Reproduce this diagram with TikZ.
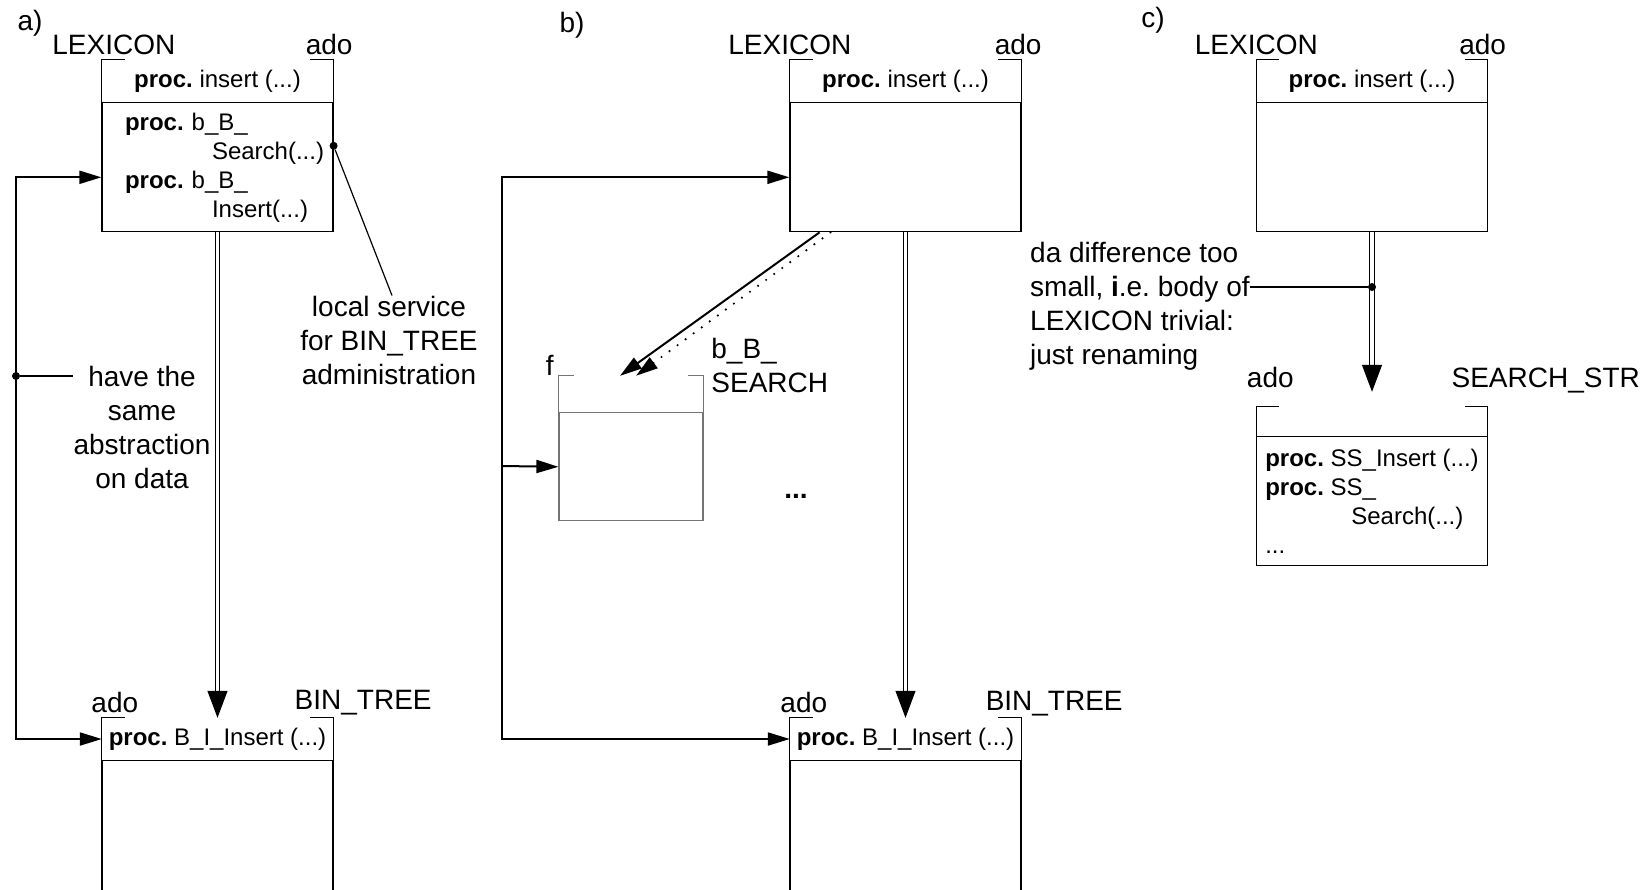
\documentclass[tikz,border=0pt]{standalone}
\usepackage{fontspec}
\setmainfont{Liberation Sans}
\usepackage{tikz}
\usetikzlibrary{positioning, arrows.meta, calc}
\frenchspacing

\tikzset{
  lbl/.style={font=\fontsize{28}{34}\selectfont, inner sep=0pt},
  note/.style={font=\fontsize{28}{34}\selectfont, inner sep=0pt, align=center},
  head/.style={minimum width=231pt, minimum height=42pt, inner sep=0pt, font=\fontsize{24}{29}\selectfont},
  body/.style={draw, line width=1.2pt, minimum width=231pt, inner sep=0pt, font=\fontsize{24}{29}\selectfont, align=left},
  flow/.style={line width=2pt, -{Triangle[length=22pt,width=13pt]}},
  refine/.style={double, double distance=3.5pt, line width=1.1pt, -{Triangle[length=27pt,width=20pt]}},
  dot/.style={circle, fill, inner sep=0pt, minimum size=8pt},
}

\begin{document}
\begin{tikzpicture}[x=1pt, y=-1pt]
\useasboundingbox (0,0) rectangle (1648,889);

% a)
\node[lbl] (parta) at (30,23) {a)};
\node[head] (lexAh) at (217.5,81) {\textbf{proc.} insert (...)};
\node[body, below=0pt of lexAh, minimum height=129pt, text width=185pt] (lexAb) {\textbf{proc.} b\_B\_\\\hspace*{87pt}Search(...)\\\textbf{proc.} b\_B\_\\\hspace*{87pt}Insert(...)};
\node[head] (binAh) at (217.5,739) {\textbf{proc.} B\_I\_Insert (...)};
\node[body, below=0pt of binAh, minimum height=200pt] (binAb) {};

\node[lbl, anchor=base] (lexAname) at ([xshift=12pt,yshift=5pt]lexAh.north west) {LEXICON};
\node[lbl, anchor=base] (lexAado) at ([xshift=-4pt,yshift=5pt]lexAh.north east) {ado};
\node[lbl, anchor=base] (binAado) at ([xshift=13pt,yshift=5pt]binAh.north west) {ado};
\node[lbl, anchor=base] (binAname) at ([xshift=30pt,yshift=8pt]binAh.north east) {BIN\_TREE};

\node[note] (anote) at (389,340) {local service\\for BIN\_TREE\\administration};
\node[note] (hnote) at (142,427) {have the\\same\\abstraction\\on data};

% b)
\node[lbl] (partb) at (572,25) {b)};
\node[head] (lexBh) at (905.5,81) {\textbf{proc.} insert (...)};
\node[body, below=0pt of lexBh, minimum height=129pt] (lexBb) {};
\node[head, minimum width=144pt, minimum height=36pt] (fBh) at (631,394) {};
\node[body, draw=black!55, below=0pt of fBh, minimum width=144pt, minimum height=108pt] (fBb) {};
\node[head] (binBh) at (905.5,739) {\textbf{proc.} B\_I\_Insert (...)};
\node[body, below=0pt of binBh, minimum height=200pt] (binBb) {};

\node[lbl, anchor=base] (lexBname) at ([yshift=5pt]lexBh.north west) {LEXICON};
\node[lbl, anchor=base] (lexBado) at ([xshift=-3pt,yshift=5pt]lexBh.north east) {ado};
\node[lbl, anchor=base] (fBname) at ([xshift=-9pt]fBh.north west) {f};
\node[lbl, align=left, anchor=north west] (fBsvc) at ([xshift=8pt,yshift=38pt]fBh.north east) {b\_B\_\\SEARCH};
\node[lbl, anchor=base] (binBado) at ([xshift=14pt,yshift=5pt]binBh.north west) {ado};
\node[lbl, anchor=base] (binBname) at ([xshift=33pt,yshift=7pt]binBh.north east) {BIN\_TREE};
\node[lbl] (bdots) at (796,496) {\textbf{...}};

% c)
\node[lbl] (partc) at (1153,20) {c)};
\node[head] (lexCh) at (1372,81) {\textbf{proc.} insert (...)};
\node[body, below=0pt of lexCh, minimum height=129pt] (lexCb) {};
\node[head, minimum height=29pt] (ssCh) at (1372,421.5) {};
\node[body, below=0pt of ssCh, minimum height=129pt] (ssCb) {\textbf{proc.} SS\_Insert (...)\\\textbf{proc.} SS\_\\\hspace*{86pt}Search(...)\\...};

\node[lbl, anchor=base] (lexCname) at ([yshift=5pt]lexCh.north west) {LEXICON};
\node[lbl, anchor=base] (lexCado) at ([xshift=-5pt,yshift=5pt]lexCh.north east) {ado};
\node[lbl, anchor=base] (ssCado) at ([xshift=14pt,yshift=19pt]ssCh.north west) {ado};
\node[lbl, anchor=base] (ssCname) at ([xshift=58pt,yshift=19pt]ssCh.north east) {SEARCH\_STR};

\node[note, align=left, anchor=west] (cnote) at (1030,306) {da difference too\\small, \textbf{i}.e. body of\\LEXICON trivial:\\just renaming};

% ado interface frames
\foreach \h in {lexAh, binAh, lexBh, binBh, lexCh, ssCh}
  \draw[line width=1.2pt] ([xshift=23pt]\h.north west) -- (\h.north west) -- (\h.south west)
    (\h.south east) -- (\h.north east) -- ([xshift=-23pt]\h.north east);
\draw[line width=1.2pt, black!55] ([xshift=15pt]fBh.north west) -- (fBh.north west) -- (fBh.south west)
  (fBh.south east) -- (fBh.north east) -- ([xshift=-15pt]fBh.north east);

% connectors a)
\coordinate (railA) at (16,376);
\draw[line width=2pt, {Triangle[length=22pt,width=13pt]}-{Triangle[length=22pt,width=13pt]}]
  ([yshift=-10pt]lexAb.west) -| (railA) |- (binAh.west);
\node[dot] (railAdot) at (railA) {};
\draw[line width=1.2pt] (railAdot) -- (railAdot -| hnote.west);
\draw[refine] (lexAb) -- (binAh);
\coordinate (svcA) at ([yshift=21.5pt]lexAb.east);
\node[dot] (svcAdot) at (svcA) {};
\draw[line width=1.2pt] (svcAdot) -- ([xshift=3pt]anote.north);

% connectors b)
\coordinate (railB) at (502,466);
\draw[flow] (railB) |- ([yshift=-10pt]lexBb.west);
\draw[flow] (railB) |- (binBh.west);
\draw[flow] (railB) -- (fBb.west);
\draw[flow] ([xshift=-86pt]lexBb.south) -- ([xshift=-11pt]fBh.north);
\draw[flow, line width=2.4pt, line cap=round, dash pattern=on 0pt off 10pt] ([xshift=-75pt]lexBb.south) -- ([xshift=5pt]fBh.north);
\draw[refine] (lexBb) -- (binBh);

% connectors c)
\draw[refine, shorten >=15pt] (lexCb) -- (ssCh);
\coordinate (cdot) at (1372,287);
\node[dot] (cdotn) at (cdot) {};
\draw[line width=1.2pt] (cnote.east |- cdotn) -- (cdotn);
\end{tikzpicture}
\end{document}
